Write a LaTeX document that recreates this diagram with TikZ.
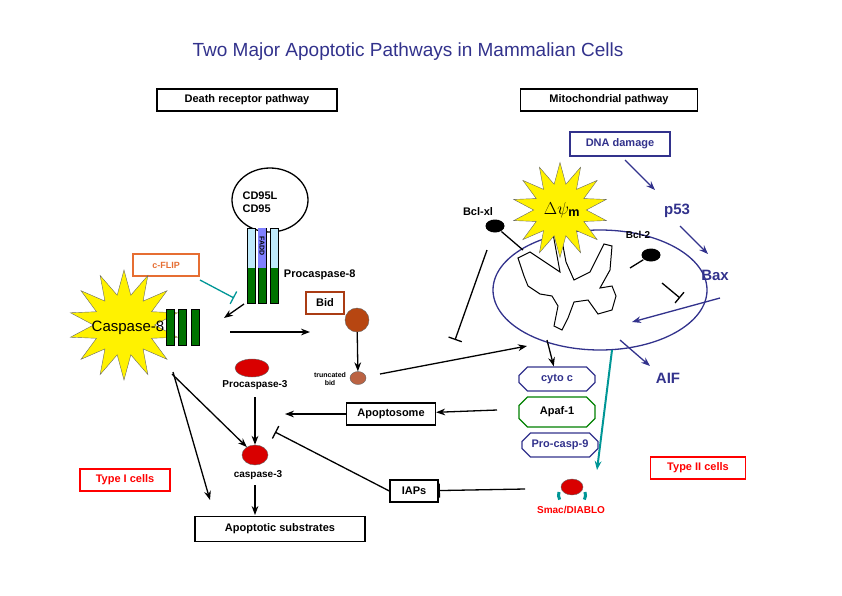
\documentclass[tikz,border=0pt]{standalone}
\usepackage{fontspec}
\setmainfont{Liberation Sans}
\usetikzlibrary{shapes.geometric,shapes.misc,arrows.meta}
\definecolor{navy}{RGB}{50,50,140}
\definecolor{teal2}{RGB}{0,150,150}
\definecolor{flip}{RGB}{230,110,50}
\definecolor{bidc}{RGB}{170,60,20}
\begin{document}
\begin{tikzpicture}[x=1pt,y=-1pt,line width=1.3pt,
	lbl/.style={font=\bfseries\fontsize{11}{13}\selectfont},
	sml/.style={font=\bfseries\fontsize{10}{12}\selectfont},
	box/.style={draw,lbl,minimum height=22pt,inner sep=3pt},
	blu/.style={navy,-{Stealth[length=9pt]}},
	arr/.style={-{Stealth[length=9pt]}},
	inh/.style={-{Bar[width=14pt]}},
	burst/.style={star,star points=14,star point ratio=1.8,fill=yellow,draw=black!60,thin},
	octa/.style={draw,chamfered rectangle,chamfered rectangle xsep=5pt,minimum width=76pt,minimum height=24pt,lbl}]
	\useasboundingbox (0,0) rectangle (842,595);

	\node[navy,font=\fontsize{19}{22}\selectfont] (title) at (408,52) {Two Major Apoptotic Pathways in Mammalian Cells};
	\node[box,minimum width=180pt] (drp) at (247,100) {Death receptor pathway};
	\node[box,minimum width=177pt] (mtp) at (609,100) {Mitochondrial pathway};

	%receptor
	\node[draw,ellipse,minimum width=76pt,minimum height=64pt] (cd95) at (270,200) {};
	\node[lbl,align=left] (cdtxt) at (260,202) {CD95L\\CD95};
	\foreach \x in {251,262,274}{
	\fill[cyan!25] (\x-4,228) rectangle (\x+4,268);
	\fill[green!45!black] (\x-4,268) rectangle (\x+4,303);
	\draw[thin] (\x-4,228) rectangle (\x+4,303);}
	\fill[blue!50] (258,228) rectangle (266,268);
	\node[rotate=-90,font=\bfseries\scriptsize] (fadd) at (262,246) {FADD};
	\node[lbl,anchor=west] (pc8) at (280,275) {Procaspase-8};
	\node[draw=flip,fill=white,font=\bfseries\small\rmfamily,text=flip,minimum width=66pt,minimum height=22pt] (flip) at (166,265) {c-FLIP};

	%caspase-8
	\node[burst,minimum size=110pt] (star8) at (124,325) {};
	\node[font=\fontsize{15}{17}\selectfont] (c8) at (128,328) {Caspase-8};
	\foreach \x in {170,182,195}{
	\fill[green!45!black] (\x-4,309) rectangle (\x+4,345);
	\draw[thin] (\x-4,309) rectangle (\x+4,345);}
	\coordinate (c8r) at (230,332);
	\draw[teal2,inh] (200,280) -- (234,298);
	\draw[arr] (244,304) -- (224,318);

	%bid
	\node[draw=bidc,lbl,minimum width=38pt,minimum height=22pt] (bid) at (325,303) {Bid};
	\node[circle,fill=bidc!85!orange,draw=black!60,thin,minimum size=24pt] (bidb) at (357,320) {};
	\draw[arr] (c8r) -- (310,332);
	\node[fill=bidc!80,draw=black!60,thin,ellipse,minimum width=16pt,minimum height=13pt] (tbid) at (358,378) {};
	\node[font=\bfseries\scriptsize,align=center] (tbidt) at (330,379) {truncated\\bid};
	\draw[arr] (bidb) -- (tbid);

	%caspase-3
	\node[ellipse,fill=red!85!black,draw=black!60,thin,minimum width=34pt,minimum height=18pt] (pc3) at (252,368) {};
	\node[sml] (pc3t) at (255,385) {Procaspase-3};
	\node[ellipse,fill=red!85!black,draw=black!60,thin,minimum width=26pt,minimum height=20pt] (c3) at (255,455) {};
	\node[sml] (c3t) at (258,475) {caspase-3};
	\node[box,minimum width=170pt,minimum height=25pt] (subs) at (280,529) {Apoptotic substrates};
	\draw[arr] (255,397) -- (c3);
	\draw[arr] (172,374) -- (c3);
	\draw[arr] (173,372) -- (210,500);
	\draw[arr] (255,485) -- (255,515);

	\node[box,draw=red,text=red,minimum width=90pt] (t1) at (125,480) {Type I cells};
	\node[box,draw=red,text=red,minimum width=95pt] (t2) at (698,468) {Type II cells};
	\node[box,minimum width=89pt] (apo) at (391,414) {Apoptosome};
	\node[box,minimum width=48pt] (iap) at (414,491) {IAPs};
	\draw[arr] (apo) -- (285,414);
	\draw[inh] (iap.west) -- (275,432);

	%mitochondrion
	\node[draw=navy,ellipse,minimum width=214pt,minimum height=120pt] (mito) at (600,290) {};
	\draw[line width=1pt] (518,258) -- (530,252) -- (545,262) -- (560,272) -- (556,250) -- (552,228) -- (560,230) -- (566,262) -- (574,280) -- (590,272) -- (604,244) -- (612,246) -- (610,270) -- (600,288) -- (612,286) -- (616,296) -- (612,310) -- (598,314) -- (588,300) -- (574,302) -- (568,318) -- (562,330) -- (554,326) -- (558,306) -- (552,296) -- (540,294) -- (528,286) -- (524,276) -- cycle;
	\node[burst,minimum size=95pt] (psi) at (560,210) {};
	\node[font=\fontsize{18}{20}\selectfont] (psit) at (562,210) {$\Delta\psi_{\mathbf{m}}$};
	\node[lbl] (bclxl) at (478,212) {Bcl-xl};
	\node[ellipse,fill=black,minimum width=19pt,minimum height=13pt] (bxb) at (495,226) {};
	\draw (bxb) -- (523,250);
	\node[sml] (bcl2) at (638,235) {Bcl-2};
	\node[ellipse,fill=black,minimum width=19pt,minimum height=13pt] (b2b) at (651,255) {};
	\draw (b2b) -- (630,268);
	\draw[inh] (487,250) -- (455,340);

	\node[box,draw=navy,text=navy,minimum width=100pt,minimum height=24pt] (dna) at (620,144) {DNA damage};
	\node[navy,font=\bfseries\fontsize{15}{17}\selectfont] (p53) at (677,211) {p53};
	\node[navy,font=\bfseries\fontsize{15}{17}\selectfont] (bax) at (715,275) {Bax};
	\node[navy,font=\bfseries\fontsize{15}{17}\selectfont] (aif) at (668,378) {AIF};
	\draw[blu] (625,160) -- (655,190);
	\draw[blu] (680,226) -- (708,254);
	\draw[blu] (720,298) -- (632,322);
	\draw[blu] (620,340) -- (650,366);
	\draw[inh] (662,283) -- (680,298);

	\draw[arr] (tbid) ++(22,-4) -- (527,346);
	\node[octa,draw=navy,text=navy] (cyto) at (557,379) {cyto c};
	\node[octa,draw=green!50!black,minimum height=30pt] (apaf) at (557,412) {Apaf-1};
	\node[octa,draw=navy,text=navy] (pc9) at (560,445) {Pro-casp-9};
	\draw[arr] (547,340) -- (cyto);
	\draw[arr] (497,410) -- (apo);

	%smac
	\node[ellipse,fill=red!85!black,draw=black!60,thin,minimum width=22pt,minimum height=16pt] (smac) at (572,487) {};
	\draw[teal2,line width=3pt] (559,492) arc (200:150:9);
	\draw[teal2,line width=3pt] (585,492) arc (-20:30:9);
	\node[text=red,sml] (smact) at (571,510) {Smac/DIABLO};
	\draw[teal2,arr,line width=2pt] (612,350) -- (597,470);
	\draw[inh] (525,489) -- (iap);
\end{tikzpicture}
\end{document}
